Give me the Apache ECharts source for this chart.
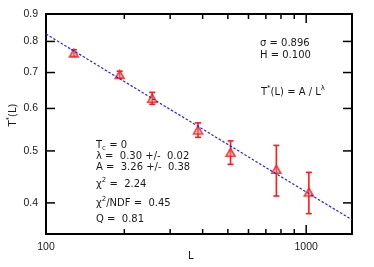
<!DOCTYPE html>
<html><head><meta charset="utf-8">
<script src="https://cdn.jsdelivr.net/npm/echarts@6/dist/echarts.min.js"></script>
<style>html,body{margin:0;padding:0;background:#fff}#c{width:374px;height:267px}</style>
</head><body><div id="c"></div>
<script>
// ---- data ----
const sizes = [128, 192, 256, 384, 512, 768, 1024];
const tStar = [0.761, 0.694, 0.627, 0.547, 0.497, 0.462, 0.419];
const tErr = [0.011, 0.010, 0.016, 0.017, 0.025, 0.050, 0.037];
const fitL = [100, 1500];
const fitT = [0.826, 0.372];
const xMajorTicks = [100, 1000];
const xMinorTicks = [200, 300, 400, 500, 600, 700, 800, 900];
const yTicks = [0.4, 0.5, 0.6, 0.7, 0.8, 0.9];
const xRange = [100, 1500];
const yRange = [0.35, 0.9];

const lg = Math.log10;
const TXT = '#1a1a1a';
const RED = '#ff1a1a';
const X0 = lg(xRange[0]), X1 = lg(xRange[1]);
const Y0 = lg(yRange[0]), Y1 = lg(yRange[1]);

const scatterData = sizes.map((L, i) => [lg(L), lg(tStar[i])]);
const errData = sizes.map((L, i) => [lg(L), lg(tStar[i] - tErr[i]), lg(tStar[i] + tErr[i])]);
const fitData = fitL.map((L, i) => [lg(L), lg(fitT[i])]);

function xAxisDef(pos, showLabel) {
  return {
    type: 'value', position: pos, min: X0, max: X1,
    axisLine: {show: true, onZero: false, lineStyle: {color: '#000', width: 2}},
    axisTick: {show: false},
    axisLabel: {show: showLabel, customValues: xMajorTicks.map(lg), margin: 8,
      fontFamily: 'Liberation Sans', fontSize: 10.5, color: TXT,
      formatter: v => String(Math.round(Math.pow(10, v)))},
    splitLine: {show: false}
  };
}
function yAxisDef(pos, showLabel) {
  return {
    type: 'value', position: pos, min: Y0, max: Y1,
    axisLine: {show: true, onZero: false, lineStyle: {color: '#000', width: 2}},
    axisTick: {show: false},
    axisLabel: {show: showLabel, customValues: yTicks.map(lg), margin: 8,
      fontFamily: 'Liberation Sans', fontSize: 10.5, color: TXT,
      formatter: v => Math.pow(10, v).toFixed(1)},
    splitLine: {show: false}
  };
}

const richBase = {
  m: {fontFamily: 'DejaVu Sans', fontSize: 10, fill: TXT, verticalAlign: 'bottom', padding: [0, 0, 2, 0]},
  sup: {fontFamily: 'DejaVu Sans', fontSize: 7, fill: TXT, verticalAlign: 'bottom', padding: [0, 0, 7, 0]},
  sub: {fontFamily: 'DejaVu Sans', fontSize: 7, fill: TXT, verticalAlign: 'bottom', padding: [0, 0, 0, 0]}
};
function txt(x, y, text, rot) {
  return {type: 'text', x: x, y: y, rotation: rot || 0,
    style: {text: text, rich: richBase, fill: TXT, font: '10px "DejaVu Sans"',
      align: rot ? 'center' : 'left', verticalAlign: 'middle'}};
}

const chart = echarts.init(document.getElementById('c'), null, {renderer: 'canvas'});
chart.setOption({
  animation: false,
  backgroundColor: '#fff',
  grid: {left: 46, right: 22, top: 14, bottom: 33},
  xAxis: [xAxisDef('bottom', true), xAxisDef('top', false)],
  yAxis: [yAxisDef('left', true), yAxisDef('right', false)],
  series: [
    {
      type: 'custom', z: 2,
      data: errData, encode: {x: 0, y: [1, 2]},
      renderItem: (params, api) => {
        const x = api.value(0);
        const p1 = api.coord([x, api.value(1)]);
        const p2 = api.coord([x, api.value(2)]);
        const w = 3;
        const st = {stroke: RED, lineWidth: 1.6};
        return {type: 'group', children: [
          {type: 'line', shape: {x1: p1[0], y1: p1[1], x2: p2[0], y2: p2[1]}, style: st},
          {type: 'line', shape: {x1: p1[0] - w, y1: p1[1], x2: p1[0] + w, y2: p1[1]}, style: st},
          {type: 'line', shape: {x1: p2[0] - w, y1: p2[1], x2: p2[0] + w, y2: p2[1]}, style: st}
        ]};
      }
    },
    {
      type: 'scatter', z: 3,
      data: scatterData, symbol: 'triangle', symbolSize: [9, 8],
      itemStyle: {color: 'rgba(255,140,140,0.55)', borderColor: RED, borderWidth: 1.6}
    },
    {
      type: 'line', z: 4,
      data: fitData, symbol: 'none',
      lineStyle: {color: '#1f1fff', width: 1.2, type: [2.5, 1.8]}
    }
  ],
  graphic: [
    txt(260, 44, '{m|σ = 0.896}'),
    txt(260, 56, '{m|H = 0.100}'),
    txt(261, 92, '{m|T}{sup|*}{m|(L) = A / L}{sup|λ}'),
    txt(96, 146, '{m|T}{sub|c}{m| = 0}'),
    txt(96, 157, '{m|λ =  0.30 +/-  0.02}'),
    txt(96, 168, '{m|A =  3.26 +/-  0.38}'),
    txt(96, 184, '{m|χ}{sup|2}{m| =  2.24}'),
    txt(96, 203, '{m|χ}{sup|2}{m|/NDF =  0.45}'),
    txt(96, 220, '{m|Q =  0.81}'),
    txt(188, 257, '{m|L}'),
    txt(13, 115, '{m|T}{sup|*}{m|(L)}', Math.PI / 2)
  ]
});

// tick marks placed through the chart's own scales (convertToPixel), pointing inward
const px = (x, y) => chart.convertToPixel({gridIndex: 0}, [x, y]);
const tickEls = [];
const tk = (x1, y1, x2, y2) => tickEls.push({type: 'line', z: 50, silent: true,
  shape: {x1: x1, y1: y1, x2: x2, y2: y2}, style: {stroke: '#000', lineWidth: 1.5}});
const bl = px(X0, Y0), tr = px(X1, Y1);
xMajorTicks.concat(xMinorTicks).forEach(v => {
  const len = xMajorTicks.indexOf(v) >= 0 ? 9 : 5;
  const x = px(lg(v), Y0)[0];
  tk(x, bl[1], x, bl[1] - len);
  tk(x, tr[1], x, tr[1] + len);
});
yTicks.forEach(v => {
  const y = px(X0, lg(v))[1];
  tk(bl[0], y, bl[0] + 9, y);
  tk(tr[0] - 9, y, tr[0], y);
});
chart.setOption({graphic: {elements: tickEls.map((e, i) => Object.assign({id: 'tick' + i}, e))}});
</script></body></html>
